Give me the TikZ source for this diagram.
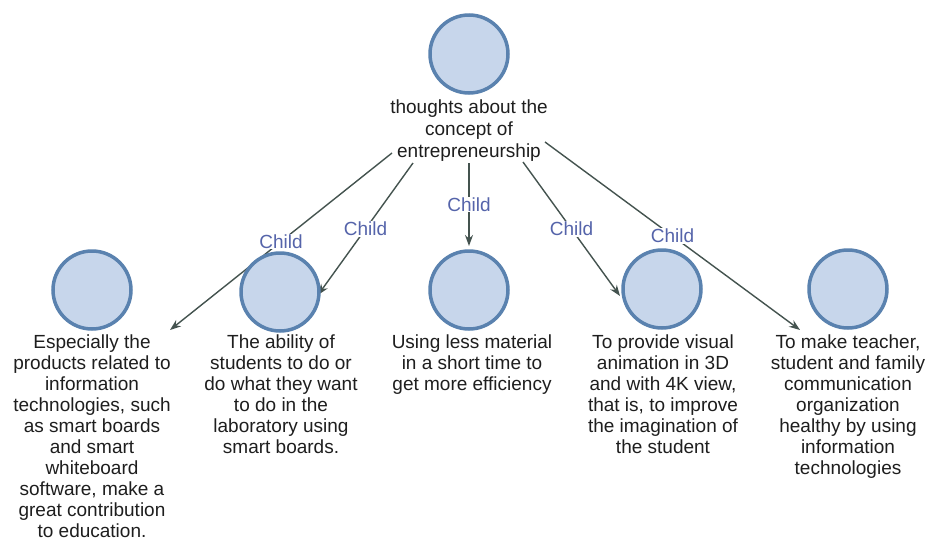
\documentclass[tikz,border=0pt]{standalone}
\usepackage{fontspec}
\setmainfont{Liberation Sans}
\usetikzlibrary{arrows.meta}
\definecolor{bubblefill}{HTML}{C7D6EB}
\definecolor{bubbleline}{HTML}{5A82AF}
\definecolor{linkcol}{HTML}{44534F}
\definecolor{tagcol}{HTML}{5564AA}
\definecolor{captiontext}{HTML}{1E1E1E}
\begin{document}
\begin{tikzpicture}[x=1pt,y=-1pt,
  bubble/.style={circle, draw=bubbleline, fill=bubblefill, line width=3.5pt,
    minimum size=78pt, inner sep=0pt},
  caption/.style={anchor=north, align=center, inner sep=0pt,
    font=\fontsize{19}{21}\selectfont, text=captiontext},
  link/.style={draw=linkcol, line width=1.4pt,
    -{Stealth[length=11pt,width=8pt]}},
  tag/.style={fill=white, inner sep=1pt, text=tagcol,
    font=\fontsize{19}{21}\selectfont}
]
\useasboundingbox[fill=white] (0,0) rectangle (927,544);

% connector end points
\coordinate (s1) at (392,153);
\coordinate (s2) at (413,163);
\coordinate (s3) at (469,163);
\coordinate (s4) at (523,162);
\coordinate (s5) at (545,142);
\coordinate (t1) at (170,330);
\coordinate (t2) at (318,295);
\coordinate (t3) at (469,246);
\coordinate (t4) at (620,296);
\coordinate (t5) at (800,330);

% connectors
\draw[link] (s1) -- node[tag]{Child} (t1);
\draw[link] (s2) -- node[tag]{Child} (t2);
\draw[link] (s3) -- node[tag]{Child} (t3);
\draw[link] (s4) -- node[tag]{Child} (t4);
\draw[link] (s5) -- node[tag]{Child} (t5);

% root
\node[bubble] (root) at (469,54) {};
\node[caption, font=\fontsize{19}{22}\selectfont] (rt) at (469,100)
  {thoughts about the\\concept of\\entrepreneurship};

% children
\node[bubble] (c1) at (92,290) {};
\node[bubble] (c2) at (280,292) {};
\node[bubble] (c3) at (469,290) {};
\node[bubble] (c4) at (662,289) {};
\node[bubble] (c5) at (848,289) {};

\node[caption] (d1) at (92,335) {Especially the\\products related to\\information\\technologies, such\\as smart boards\\and smart\\whiteboard\\software, make a\\great contribution\\to education.};
\node[caption] (d2) at (281,335) {The ability of\\students to do or\\do what they want\\to do in the\\laboratory using\\smart boards.};
\node[caption] (d3) at (472,335) {Using less material\\in a short time to\\get more efficiency};
\node[caption] (d4) at (663,335) {To provide visual\\animation in 3D\\and with 4K view,\\that is, to improve\\the imagination of\\the student};
\node[caption] (d5) at (848,335) {To make teacher,\\student and family\\communication\\organization\\healthy by using\\information\\technologies};
\end{tikzpicture}
\end{document}
